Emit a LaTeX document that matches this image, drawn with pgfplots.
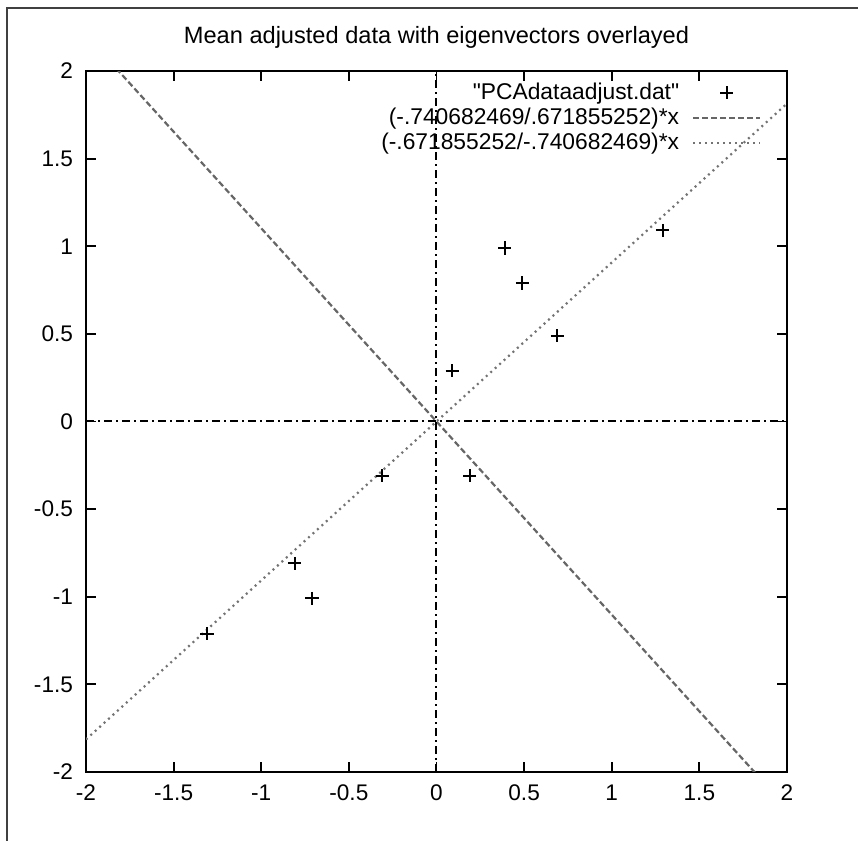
\documentclass[border=0pt]{standalone}
\usepackage{fontspec}
\setmainfont{Liberation Sans}
\newfontfamily\qfont{Liberation Sans}
\usepackage{pgfplots}
\pgfplotsset{compat=1.18}
\pgfplotsset{
  lineleg/.style={legend image code/.code={\draw[##1] (0pt,0pt) -- (33.5pt,0pt);}},
  markleg/.style={legend image code/.code={\draw[mark repeat=2,mark phase=2,##1] plot coordinates {(0pt,0pt) (16.75pt,0pt) (33.5pt,0pt)};}},
}
\begin{document}
\begin{tikzpicture}
\path[use as bounding box] (0,0) rectangle (429pt,420.5pt);
\draw[line width=1pt, black!75] (3.5pt,0) -- (3.5pt,416.5pt) -- (429pt,416.5pt);
\begin{axis}[
  at={(43pt,34.5pt)}, anchor=south west,
  width=350.5pt, height=350.5pt, scale only axis,
  xmin=-2, xmax=2, ymin=-2, ymax=2,
  axis line style={line width=1pt},
  tick style={line width=0.9pt, black},
  tick align=inside, major tick length=5pt,
  xtick={-2,-1.5,-1,-0.5,0,0.5,1,1.5,2},
  xticklabels={-2,-1.5,-1,-0.5,0,0.5,1,1.5,2},
  ytick={-2,-1.5,-1,-0.5,0,0.5,1,1.5,2},
  yticklabels={-2,-1.5,-1,-0.5,0,0.5,1,1.5,2},
  ticklabel style={font=\fontsize{11.3}{13}\selectfont},
  xticklabel style={yshift=-3pt},
  yticklabel style={xshift=-3pt},
  title={Mean adjusted data with eigenvectors overlayed},
  title style={font=\fontsize{11.8}{13}\selectfont, at={(0.5,1)}, anchor=base, yshift=8pt},
  legend style={draw=none, fill=none, at={(0.964,0.985)}, anchor=north east,
    inner sep=0pt, row sep=1.8pt, column sep=6pt, font=\qfont\fontsize{11.4}{11.4}\selectfont,
    nodes={inner sep=0.5pt}},
  legend cell align=right,
  legend plot pos=right,
  clip=true,
]
\addplot[only marks, mark=+, mark size=3.3pt, line width=1pt, black, markleg] coordinates {
(0.69,0.49) (-1.31,-1.21) (0.39,0.99) (0.09,0.29) (1.29,1.09)
(0.49,0.79) (0.19,-0.31) (-0.81,-0.81) (-0.31,-0.31) (-0.71,-1.01)};
\addlegendentry{"PCAdataadjust.dat"}
\addplot[black!60, line width=1.1pt, dash pattern=on 3pt off 1.5pt, lineleg] coordinates {(-2,2.204886) (2,-2.204886)};
\addlegendentry{(-.740682469/.671855252)*x}
\addplot[black!55, line width=1.1pt, dash pattern=on 1pt off 2pt, lineleg] coordinates {(-2,-1.814156) (2,1.814156)};
\addlegendentry{(-.671855252/-.740682469)*x}
\addplot[black, line width=1pt, dash pattern=on 4pt off 2pt on 1pt off 2pt, forget plot] coordinates {(-2,0) (2,0)};
\addplot[black, line width=1pt, dash pattern=on 4pt off 2pt on 1pt off 2pt, forget plot] coordinates {(0,-2) (0,2)};
\end{axis}
\end{tikzpicture}
\end{document}
